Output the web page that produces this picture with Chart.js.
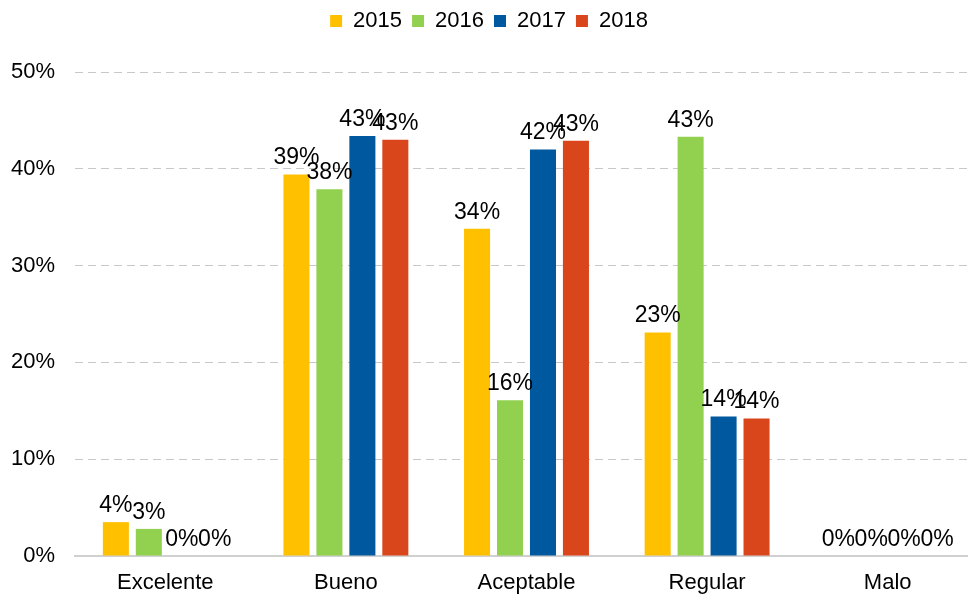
<!DOCTYPE html>
<html>
<head>
<meta charset="utf-8">
<script src="https://cdn.jsdelivr.net/npm/chart.js@4/dist/chart.umd.min.js"></script>
<style>
  html, body { margin: 0; padding: 0; background: #fff; overflow: hidden; }
  #wrap { width: 1010px; height: 594px; }
</style>
</head>
<body>
<div id="wrap"><canvas id="myChart" width="1010" height="594"></canvas></div>
<script>
const categories = ['Excelente', 'Bueno', 'Aceptable', 'Regular', 'Malo'];
const years = ['2015', '2016', '2017', '2018'];
const values2015 = [3.5, 39.4, 33.8, 23.1, 0];
const values2016 = [2.8, 37.9, 16.1, 43.3, 0];
const values2017 = [0, 43.4, 42.0, 14.4, 0];
const values2018 = [0, 43.0, 42.9, 14.2, 0];
const colors = ['#ffc000', '#92d050', '#00599f', '#d9461b'];

const FONT = '"Liberation Sans", Arial, sans-serif';

// etiquetas de valor encima de cada barra
const valueLabels = {
  id: 'valueLabels',
  afterDatasetsDraw(chart) {
    const ctx = chart.ctx;
    ctx.save();
    ctx.font = '23px ' + FONT;
    ctx.fillStyle = '#000';
    ctx.textAlign = 'center';
    ctx.textBaseline = 'bottom';
    chart.data.datasets.forEach((ds, i) => {
      chart.getDatasetMeta(i).data.forEach((bar, j) => {
        ctx.fillText(Math.round(ds.data[j]) + '%', bar.x, bar.y - 5);
      });
    });
    ctx.restore();
  }
};

// mas espacio debajo de la leyenda
const legendSpace = {
  id: 'legendSpace',
  beforeInit(chart) {
    const fit = chart.legend.fit;
    chart.legend.fit = function () {
      fit.bind(this)();
      this.height += 30;
    };
  }
};

const allSeries = [values2015, values2016, values2017, values2018];

const data = {
  labels: categories,
  datasets: years.map((y, i) => ({
    label: y,
    data: allSeries[i],
    backgroundColor: colors[i],
    borderWidth: 0,
    categoryPercentage: 0.73,
    barPercentage: 0.79
  }))
};

const config = {
  type: 'bar',
  data: data,
  options: {
    responsive: false,
    animation: false,
    layout: { padding: { top: 0, left: 0, right: 32, bottom: 0 } },
    plugins: {
      legend: {
        position: 'top',
        labels: {
          font: { family: FONT, size: 22 },
          color: '#000',
          boxWidth: 12,
          boxHeight: 12,
          padding: 10
        }
      },
      tooltip: { enabled: false }
    },
    scales: {
      x: {
        afterFit(scale) { scale.height = 38; },
        grid: { display: false, drawTicks: false },
        border: { display: true, color: '#d0d0d0', width: 2 },
        ticks: {
          font: { family: FONT, size: 22 },
          color: '#000',
          padding: 14
        }
      },
      y: {
        min: 0,
        max: 50,
        afterFit(scale) { scale.width = 75; },
        grid: {
          color: '#c8c8c8',
          lineWidth: 1,
          drawTicks: false
        },
        border: { display: false, dash: [8, 5] },
        ticks: {
          stepSize: 10,
          font: { family: FONT, size: 22 },
          color: '#000',
          padding: 20,
          callback: v => v + '%'
        }
      }
    }
  },
  plugins: [valueLabels, legendSpace]
};

var myChart = new Chart(document.getElementById('myChart').getContext('2d'), config);
</script>
</body>
</html>
